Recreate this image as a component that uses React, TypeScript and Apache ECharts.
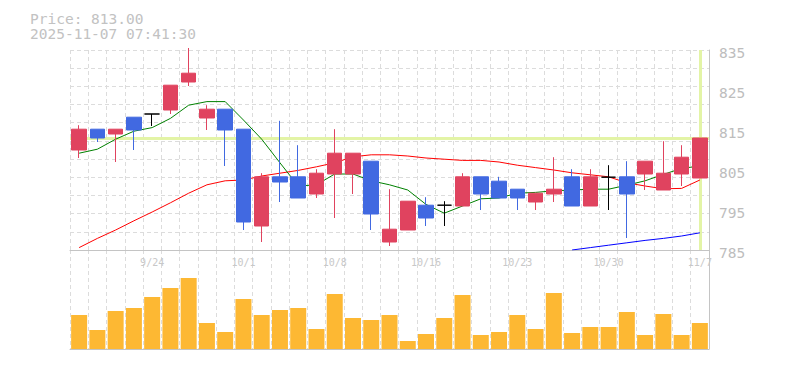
import React, { useEffect, useRef } from "react";
import * as echarts from "echarts";

const dates = [
  "9/17", "9/18", "9/19", "9/22", "9/24", "9/25", "9/26", "9/29", "9/30", "10/1",
  "10/2", "10/3", "10/6", "10/7", "10/8", "10/9", "10/10", "10/14", "10/15", "10/16",
  "10/17", "10/20", "10/21", "10/22", "10/23", "10/24", "10/27", "10/28", "10/29", "10/30",
  "10/31", "11/4", "11/5", "11/6", "11/7",
];

// [open, close, low, high]
const ohlc = [
  [810, 815.2, 808, 816.2], [815.2, 813, 812, 815.2], [814, 815.2, 807, 815.2], [818.2, 815, 810, 818.2],
  [819, 819, 816, 819], [820, 826.2, 819, 826.2], [827, 829.2, 826, 835.5], [818, 820.2, 815, 821.2],
  [820.2, 815, 806, 820.2], [815.2, 792, 790, 815.2], [791, 803.3, 787, 804.2], [803.3, 802, 797, 817.3],
  [803.3, 798, 798, 811.2], [799, 804.2, 798, 805.2], [804, 809.2, 793, 815.2], [804, 809.2, 799, 809.2],
  [807.2, 794, 790, 807.2], [787, 790.2, 786, 800.2], [790, 797.2, 790, 797.2], [796.2, 793, 791, 798.2],
  [796.2, 796.2, 791, 797.2], [796, 803.3, 796, 804.2], [803.3, 799, 795, 803.3], [802.2, 798, 798, 803.3],
  [800.2, 798, 795, 800.2], [797, 799.2, 795, 799.2], [799, 800.2, 797, 808.2], [803.3, 796, 796, 805.2],
  [796, 803.3, 796, 805.2], [803.2, 803.2, 795, 806.2], [803.3, 799, 788, 807.2], [804, 807.2, 800, 807.2],
  [800, 804.2, 800, 812.2], [804, 808.2, 801, 811.2], [803, 813, 803, 813],
];

const ma5 = [
  809.2, 810.2, 812.7, 814.7, 815.6, 817.9, 821.2, 822.1, 822.1, 817.5,
  812.7, 806.8, 801, 801.3, 804, 804, 802.3, 801.3, 800, 796.4,
  794.2, 796, 797.8, 798, 799.2, 799.4, 799.8, 800, 800.2, 800.2,
  801.2, 802.3, 803.9, 805.4, 806,
];

const ma25 = [
  785.6, 787.9, 790, 792.3, 794.5, 796.8, 799.2, 801.3, 802.3, 802.5,
  803.5, 804.2, 804.9, 805.8, 806.8, 808.3, 808.8, 808.8, 808.5, 808,
  807.7, 807.4, 807.4, 807, 806.2, 805.6, 805, 804.3, 803.8, 803.3,
  801.8, 801, 800.3, 800.4, 802.5,
];

const ma75 = [
  null, null, null, null, null, null, null, null, null, null,
  null, null, null, null, null, null, null, null, null, null,
  null, null, null, null, null, null, null, 785, 785.6, 786.2,
  786.8, 787.4, 787.9, 788.5, 789.3,
];

const volume = [
  34, 19, 38, 41, 52, 61, 71, 26, 17, 50,
  34, 39, 41, 20, 55, 31, 29, 34, 8, 15,
  31, 54, 14, 17, 34, 20, 56, 16, 22, 22,
  37, 14, 35, 14, 26,
];

const priceTicks = { min: 785, max: 835, interval: 10 };
const lastPrice = 813;
const titleLines = ["Price: 813.00", "2025-11-07 07:41:30"];

const mono = "'DejaVu Sans Mono', 'Liberation Mono', monospace";
const dashed = { color: "#dcdcdc", type: [4, 3] as any, width: 1 };

export default function App() {
  const ref = useRef<HTMLDivElement>(null);
  useEffect(() => {
    const chart = echarts.init(ref.current!, null, { renderer: "svg" });
    const option: any = {
      animation: false,
      backgroundColor: "#ffffff",
      graphic: titleLines.map((t, i) => ({
        type: "text",
        left: 30,
        top: 11 + i * 15,
        style: {
          text: t,
          fill: "#c2c2c2",
          font: `14.5px ${mono}`,
        },
      })),
      grid: [
        { left: 70, width: 639, top: 50, height: 200 },
        { left: 70, width: 639, top: 250, height: 99 },
      ],
      xAxis: [
        {
          type: "category",
          gridIndex: 0,
          data: dates,
          boundaryGap: true,
          axisLine: { lineStyle: { color: "#c4c4c4" } },
          axisTick: { show: false },
          axisLabel: {
            color: "#c8c8c8",
            fontFamily: mono,
            fontSize: 10,
            margin: 7,
            interval: (i: number) => i % 5 === 4,
          },
          splitLine: { show: true, interval: 0, lineStyle: dashed },
        },
        {
          type: "category",
          gridIndex: 1,
          data: dates,
          boundaryGap: true,
          axisLine: { lineStyle: { color: "#c4c4c4" } },
          axisTick: { show: false },
          axisLabel: { show: false },
          splitLine: { show: true, interval: 0, lineStyle: dashed },
        },
      ],
      yAxis: [
        {
          type: "value",
          gridIndex: 0,
          position: "right",
          min: priceTicks.min,
          max: priceTicks.max,
          interval: priceTicks.interval,
          axisLine: { show: true, lineStyle: { color: "#c4c4c4" } },
          axisTick: { show: false },
          axisLabel: {
            margin: 10,
            formatter: "{v|{value}}",
            rich: {
              v: {
                color: "#bdbdbd",
                fontFamily: mono,
                fontSize: 14.5,
                padding: [6, 0, 0, 0],
              },
            },
          },
          splitLine: { show: false },
        },
        {
          type: "value",
          gridIndex: 0,
          position: "left",
          min: 0,
          max: 11,
          interval: 1,
          axisLine: { show: false },
          axisTick: { show: false },
          axisLabel: { show: false },
          splitLine: { show: true, lineStyle: dashed },
        },
        {
          type: "value",
          gridIndex: 1,
          position: "right",
          min: 0,
          max: 99,
          axisLine: { show: true, lineStyle: { color: "#c4c4c4" } },
          axisTick: { show: false },
          axisLabel: { show: false },
          splitLine: { show: false },
        },
      ],
      series: [
        {
          type: "line",
          xAxisIndex: 0,
          yAxisIndex: 0,
          data: [],
          z: 1,
          markLine: {
            silent: true,
            symbol: "none",
            z: 1,
            label: { show: false },
            lineStyle: { color: "#e3f4a6", width: 3, type: "solid" },
            data: [{ yAxis: lastPrice }, { xAxis: dates[dates.length - 1] }],
          },
        },
        {
          type: "line",
          xAxisIndex: 0,
          yAxisIndex: 0,
          data: ma25,
          showSymbol: false,
          z: 2,
          lineStyle: { color: "#ff0000", width: 1 },
        },
        {
          type: "line",
          xAxisIndex: 0,
          yAxisIndex: 0,
          data: ma5,
          showSymbol: false,
          z: 2,
          lineStyle: { color: "#008000", width: 1 },
        },
        {
          type: "line",
          xAxisIndex: 0,
          yAxisIndex: 0,
          data: ma75,
          showSymbol: false,
          z: 2,
          lineStyle: { color: "#0000ff", width: 1 },
        },
        {
          type: "candlestick",
          xAxisIndex: 0,
          yAxisIndex: 0,
          data: ohlc,
          barWidth: 15,
          z: 3,
          clip: true,
          itemStyle: {
            color: "#e0435f",
            color0: "#4169e1",
            borderColor: "#e0435f",
            borderColor0: "#4169e1",
            borderColorDoji: "#000000",
            borderWidth: 1,
          },
        },
        {
          type: "bar",
          xAxisIndex: 1,
          yAxisIndex: 2,
          data: volume,
          barWidth: 16,
          itemStyle: { color: "#fdb833" },
        },
      ],
    };
    chart.setOption(option);
    return () => chart.dispose();
  }, []);
  return (
    <div
      ref={ref}
      style={{ position: "absolute", left: 0, top: 0, width: 785, height: 370 }}
    />
  );
}
